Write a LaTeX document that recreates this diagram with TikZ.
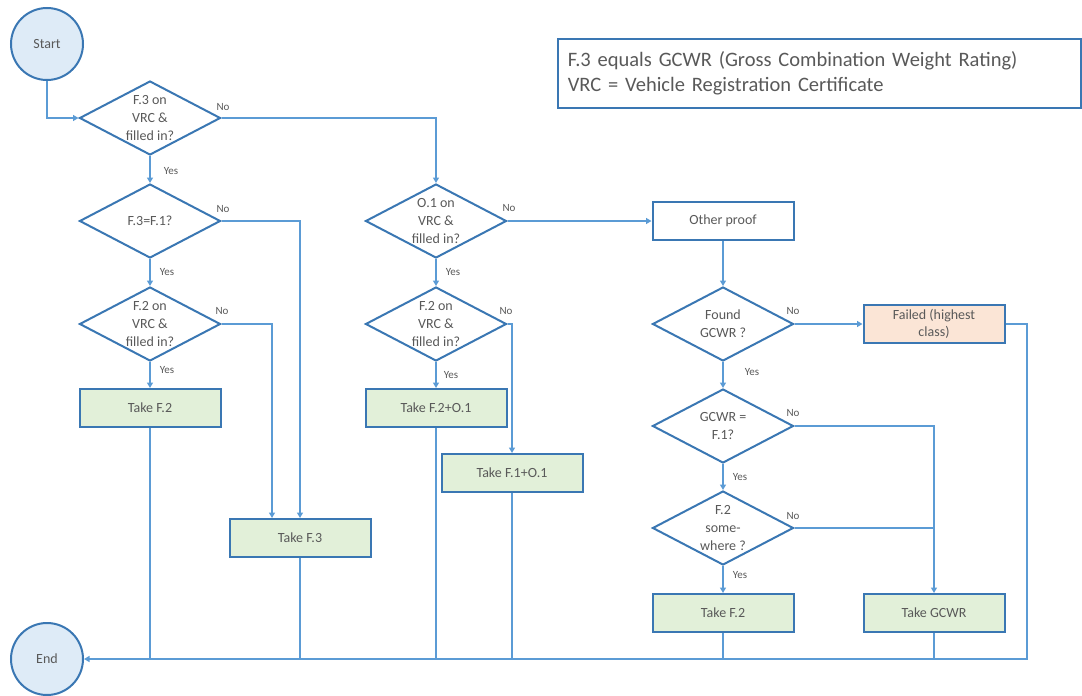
\documentclass[tikz,border=0pt]{standalone}
\usepackage{fontspec}
\setmainfont{Carlito}
\usetikzlibrary{shapes.geometric,arrows.meta}
\definecolor{linec}{HTML}{5B9BD5}
\definecolor{borderc}{HTML}{3A77B3}
\definecolor{greenf}{HTML}{E2F0D9}
\definecolor{bluef}{HTML}{DEEBF7}
\definecolor{peachf}{HTML}{FBE5D6}
\definecolor{txt}{HTML}{595959}
\tikzset{
  dia/.style={diamond, draw=borderc, line width=2pt, minimum width=141pt, minimum height=74pt, inner sep=0pt, fill=white},
  dtext/.style={align=center, text=txt, font=\fontsize{14}{18}\selectfont, inner sep=0pt},
  procbox/.style={rectangle, draw=borderc, line width=2pt, minimum width=141pt, minimum height=38pt, fill=greenf, text=txt, font=\fontsize{14}{17}\selectfont, align=center, inner sep=0pt},
  term/.style={circle, draw=borderc, line width=2pt, minimum size=72pt, fill=bluef, text=txt, font=\fontsize{14}{17}\selectfont, inner sep=0pt},
  conn/.style={draw=linec, line width=1.8pt},
  arr/.style={conn, -{Triangle[length=5.5pt,width=6pt]}},
  lab/.style={text=txt, font=\fontsize{11}{13}\selectfont, inner sep=0pt}
}
\begin{document}
\begin{tikzpicture}[x=1pt,y=-1pt]
\useasboundingbox (0,0) rectangle (1082,696);
% terminals
\node[term] (start) at (47,44) {Start};
\node[term] (end) at (47,659) {End};
% left column
\node[dia, label={[dtext]center:F.3 on\\VRC \&\\filled in?}] (d1) at (150,118) {};
\node[dia, label={[dtext]center:F.3=F.1?}] (d2) at (150,221) {};
\node[dia, label={[dtext]center:F.2 on\\VRC \&\\filled in?}] (d3) at (150,324) {};
\node[procbox] (tf2l) at (150,408) {Take F.2};
\node[procbox] (tf3) at (300,538) {Take F.3};
% middle column
\node[dia, label={[dtext]center:O.1 on\\VRC \&\\filled in?}] (d4) at (436,221) {};
\node[dia, label={[dtext]center:F.2 on\\VRC \&\\filled in?}] (d5) at (436,324) {};
\node[procbox] (tf2o1) at (436,408) {Take F.2+O.1};
\node[procbox] (tf1o1) at (512,473) {Take F.1+O.1};
% right column
\node[procbox, fill=white] (op) at (723,221) {Other proof};
\node[dia, label={[dtext]center:Found\\GCWR ?}] (d6) at (723,324) {};
\node[procbox, fill=peachf, font=\fontsize{14}{17}\selectfont] (fail) at (934,324) {Failed (highest\\class)};
\node[dia, label={[dtext]center:GCWR =\\F.1?}] (d7) at (723,426) {};
\node[dia, label={[dtext]center:F.2\\some-\\where ?}] (d8) at (723,528) {};
\node[procbox] (tf2r) at (723,613) {Take F.2};
\node[procbox] (tgcwr) at (934,613) {Take GCWR};
% legend
\node[rectangle, draw=borderc, line width=1.6pt, minimum width=523pt, minimum height=69pt, anchor=north west, text=txt, font=\fontsize{20.5}{25}\selectfont, align=left, text width=503pt, inner xsep=10pt, inner ysep=0pt] (legend) at (557,38) {F.3 equals GCWR (Gross Combination Weight Rating)\\VRC = Vehicle Registration Certificate};
% connectors
\draw[arr] (start.south) |- (d1.west);
\draw[arr] (d1.south) -- (d2.north);
\draw[arr] (d2.south) -- (d3.north);
\draw[arr] (d3.south) -- (tf2l.north);
\draw[arr] (d1.east) -| (d4.north);
\draw[arr] (d2.east) -| (tf3.north);
\draw[arr] (d3.east) -| ([xshift=-28pt]tf3.north);
\draw[arr] (d4.east) -- (op.west);
\draw[arr] (d4.south) -- (d5.north);
\draw[arr] (d5.south) -- (tf2o1.north);
\draw[arr] (d5.east) -| (tf1o1.north);
\draw[arr] (op.south) -- (d6.north);
\draw[arr] (d6.east) -- (fail.west);
\draw[arr] (d6.south) -- (d7.north);
\draw[arr] (d7.south) -- (d8.north);
\draw[arr] (d8.south) -- (tf2r.north);
\draw[arr] (d7.east) -| (tgcwr.north);
\draw[conn] (d8.east) -- (d8.east -| tgcwr.north);
\coordinate (br) at (1027,659);
\draw[arr] (fail.east) -| (br) -- (end.east);
\draw[conn] (tf2l.south) -- (tf2l.south |- end.east);
\draw[conn] (tf3.south) -- (tf3.south |- end.east);
\draw[conn] (tf2o1.south) -- (tf2o1.south |- end.east);
\draw[conn] (tf1o1.south) -- (tf1o1.south |- end.east);
\draw[conn] (tf2r.south) -- (tf2r.south |- end.east);
\draw[conn] (tgcwr.south) -- (tgcwr.south |- end.east);
% yes/no labels
\node[lab] (n1) at (223,107) {No};
\node[lab] (y1) at (171,171) {Yes};
\node[lab] (n2) at (223,209) {No};
\node[lab] (y2) at (167,272) {Yes};
\node[lab] (n3) at (222,311) {No};
\node[lab] (y3) at (167,370) {Yes};
\node[lab] (n4) at (509,208) {No};
\node[lab] (y4) at (453,272) {Yes};
\node[lab] (n5) at (506,311) {No};
\node[lab] (y5) at (451,375) {Yes};
\node[lab] (n6) at (793,311) {No};
\node[lab] (y6) at (752,372) {Yes};
\node[lab] (n7) at (793,413) {No};
\node[lab] (y7) at (740,477) {Yes};
\node[lab] (n8) at (793,516) {No};
\node[lab] (y8) at (740,575) {Yes};
\end{tikzpicture}
\end{document}
